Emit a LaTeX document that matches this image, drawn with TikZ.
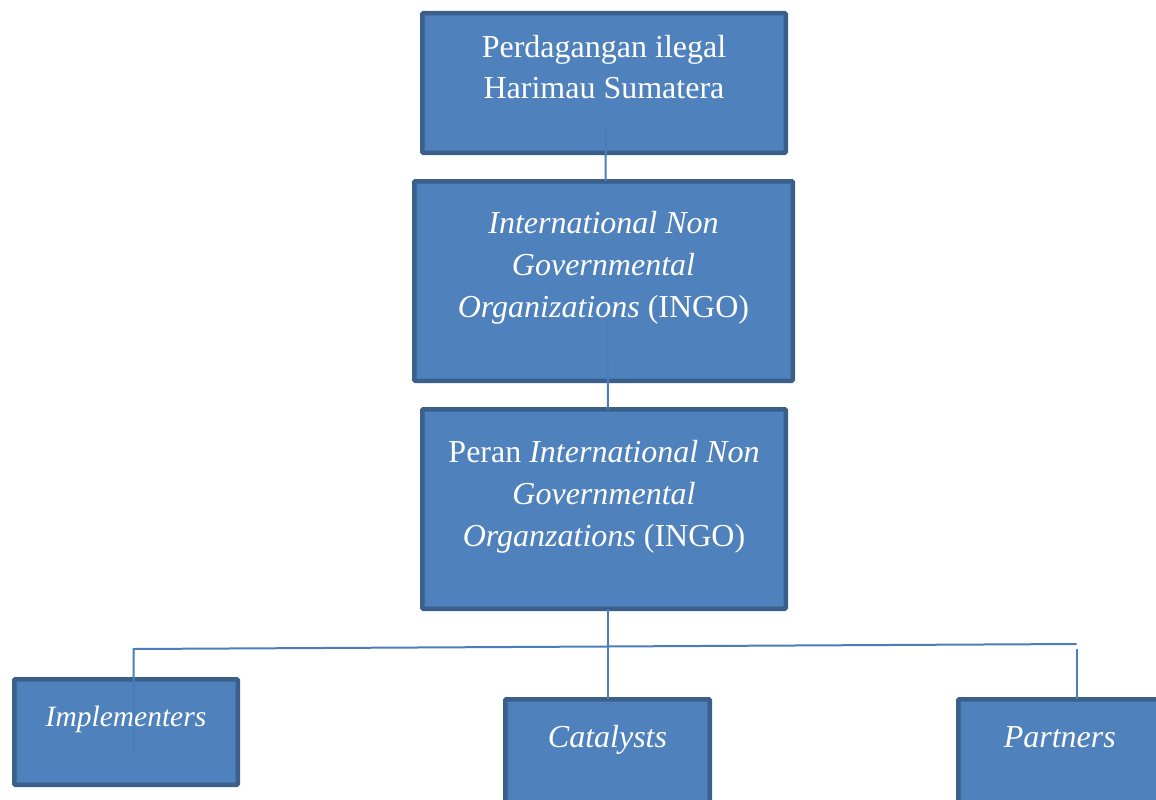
\documentclass[tikz,border=0pt]{standalone}
\usepackage{fontspec}
\setmainfont{Liberation Serif}
\usetikzlibrary{positioning}
\definecolor{boxfill}{HTML}{4F81BD}
\definecolor{boxline}{HTML}{3A5F8B}
\definecolor{linkcol}{HTML}{4A7EBB}
\tikzset{
  orgbox/.style={draw=boxline,fill=boxfill,line width=4.5pt,rounded corners=1pt,
    anchor=north west,inner sep=0pt,outer sep=0pt},
  orgtext/.style={text=white,align=center,inner sep=0pt,anchor=base,
    font=\fontsize{32}{42}\selectfont},
  link/.style={draw=linkcol,line width=2pt}
}

\begin{document}
\begin{tikzpicture}[x=1pt,y=-1pt]
                \useasboundingbox (0,0) rectangle (1156,800);
                \clip (0,0) rectangle (1156,800);
                % boxes
                \node[orgbox,minimum width=363.5pt,minimum height=139.5pt] (trade) at (422.25,13.25) {};
                \node[orgbox,minimum width=378.5pt,minimum height=199.5pt] (ingo) at (414.25,181.25) {};
                \node[orgbox,minimum width=363.5pt,minimum height=199.5pt] (peran) at (422.25,409.25) {};
                \node[orgbox,minimum width=223.5pt,minimum height=105.5pt] (impl) at (14.25,679.25) {};
                \node[orgbox,minimum width=204.5pt,minimum height=130pt] (cat) at (505.25,699.25) {};
                \node[orgbox,minimum width=203pt,minimum height=130pt] (partners) at (958.25,699.25) {};
                % texts (base = last line)
                \node[orgtext] (tradetext) at ([yshift=-85.75pt]trade.north) {Perdagangan ilegal\\Harimau Sumatera};
                \node[orgtext] (ingotext) at ([yshift=-135.75pt]ingo.north) {\textit{International Non}\\\textit{Governmental}\\\textit{Organizations} (INGO)};
                \node[orgtext] (perantext) at ([yshift=-137.5pt]peran.north) {Peran \textit{International Non}\\\textit{Governmental}\\\textit{Organzations} (INGO)};
                \node[orgtext,font=\fontsize{29.5}{36}\selectfont] (impltext) at ([yshift=-46.75pt]impl.north) {\textit{Implementers}};
                \node[orgtext] (cattext) at ([yshift=-47.75pt]cat.north) {\textit{Catalysts}};
                \node[orgtext] (partnerstext) at ([yshift=-47.75pt]partners.north) {\textit{Partners}};
                % connectors
                \coordinate (busL) at (133.5,649);
                \coordinate (busR) at (1076.5,644);
                \coordinate (implend) at (133.5,757);
                \draw[link] ([xshift=2pt,yshift=27.75pt]trade.south) -- ([xshift=2pt]ingo.north);
                \draw[link] ([xshift=4pt,yshift=60.75pt]ingo.south) -- ([xshift=4pt]peran.north);
                \draw[link,opacity=0.12] ([xshift=5.5pt,yshift=-58pt]peran.north) -- ([xshift=5.5pt,yshift=49pt]peran.south);
                \draw[link] (peran.south -| cat.north) -- (cat.north);
                \draw[link] (implend) -- (busL) -- (busR);
                \draw[link] ([yshift=-5pt]busR) -- (busR |- partners.north);
\end{tikzpicture}
\end{document}
